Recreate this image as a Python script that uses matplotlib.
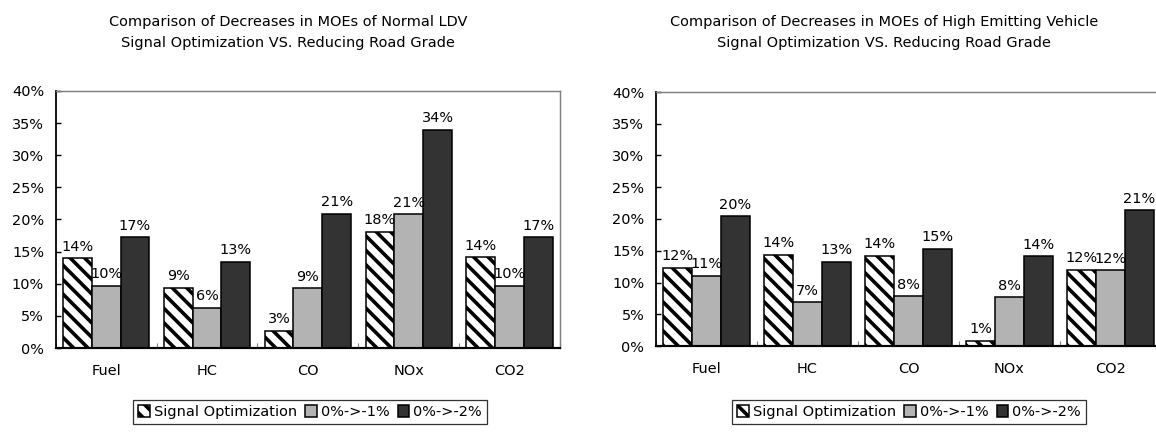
import numpy as np
import matplotlib
matplotlib.use("Agg")
import matplotlib.pyplot as plt
from matplotlib.patches import Patch

DPI = 130
plt.rcParams['font.family'] = ['DejaVu Sans']
plt.rcParams['font.size'] = 8
plt.rcParams['hatch.linewidth'] = 2.0

categories = ["Fuel", "HC", "CO", "NOx", "CO2"]
series_names = ["Signal Optimization", "0%->-1%", "0%->-2%"]

# Normal LDV
ldv_signal = [14.0, 9.4, 2.7, 18.1, 14.1]
ldv_grade1 = [9.7, 6.3, 9.3, 20.8, 9.7]
ldv_grade2 = [17.2, 13.4, 20.9, 34.0, 17.2]

# High emitting vehicle
hev_signal = [12.3, 14.4, 14.2, 0.85, 12.0]
hev_grade1 = [11.1, 6.9, 7.8, 7.7, 11.9]
hev_grade2 = [20.4, 13.3, 15.3, 14.1, 21.4]

titles = ["Comparison of Decreases in MOEs of Normal LDV\nSignal Optimization VS. Reducing Road Grade",
          "Comparison of Decreases in MOEs of High Emitting Vehicle\nSignal Optimization VS. Reducing Road Grade"]

styles = [dict(facecolor="white", hatch="\\\\\\"),
          dict(facecolor="#B3B3B3"),
          dict(facecolor="#333333")]

W, H = 1156, 434
fig = plt.figure(figsize=(W / DPI, H / DPI), dpi=DPI)

def px_axes(x0, x1, ytop, ybot):
    return fig.add_axes([x0 / W, 1 - ybot / H, (x1 - x0) / W, (ybot - ytop) / H])

panels = [
    (px_axes(55.7, 560, 91, 348), [ldv_signal, ldv_grade1, ldv_grade2], 288, 310),
    (px_axes(656, 1161, 92, 346), [hev_signal, hev_grade1, hev_grade2], 884, 909),
]

x = np.arange(len(categories))
bw = 0.285
for i, (ax, data, tx, lx) in enumerate(panels):
    for k, vals in enumerate(data):
        pos = x + (k - 1) * bw
        bars = ax.bar(pos, vals, bw, edgecolor="black", linewidth=0.85, **styles[k])
        for b, v in zip(bars, vals):
            ax.annotate(f"{int(round(v))}%", (b.get_x() + b.get_width() / 2, v),
                        xytext=(0, 2.5), textcoords="offset points",
                        ha="center", va="bottom")
    ax.set_xlim(-0.5, len(categories) - 0.5)
    ax.set_ylim(0, 40)
    ax.set_yticks(np.arange(0, 41, 5))
    ax.set_yticklabels([f"{v}%" for v in range(0, 41, 5)])
    ax.tick_params(axis="y", direction="in", length=3, width=0.8, pad=6.5)
    ax.set_xticks(np.arange(-0.5, len(categories) - 0.4, 1.0))
    ax.set_xticklabels([])
    ax.set_xticks(x, minor=True)
    ax.set_xticklabels(categories, minor=True)
    ax.tick_params(axis="x", which="major", direction="in", length=3, width=0.6, color="#808080")
    ax.tick_params(axis="x", which="minor", length=0, pad=9)
    ax.spines["left"].set_linewidth(1.0)
    ax.spines["bottom"].set_linewidth(1.2)
    for s in ["top", "right"]:
        ax.spines[s].set_color("#808080")
        ax.spines[s].set_linewidth(0.8)

    fig.text(tx / W, 1 - 32.5 / H, titles[i], ha="center", va="center",
             fontsize=8, linespacing=1.55)

    handles = [Patch(edgecolor="black", linewidth=0.85, label=n, **styles[k])
               for k, n in enumerate(series_names)]
    fig.legend(handles=handles, loc="center", bbox_to_anchor=(lx / W, 1 - 412 / H),
               ncol=3, frameon=True, fancybox=False, edgecolor="black",
               handlelength=0.8, handleheight=0.8, handletextpad=0.25,
               columnspacing=0.6, borderpad=0.35, borderaxespad=0
               ).get_frame().set_linewidth(0.7)

fig.savefig("out.png", dpi=DPI)
